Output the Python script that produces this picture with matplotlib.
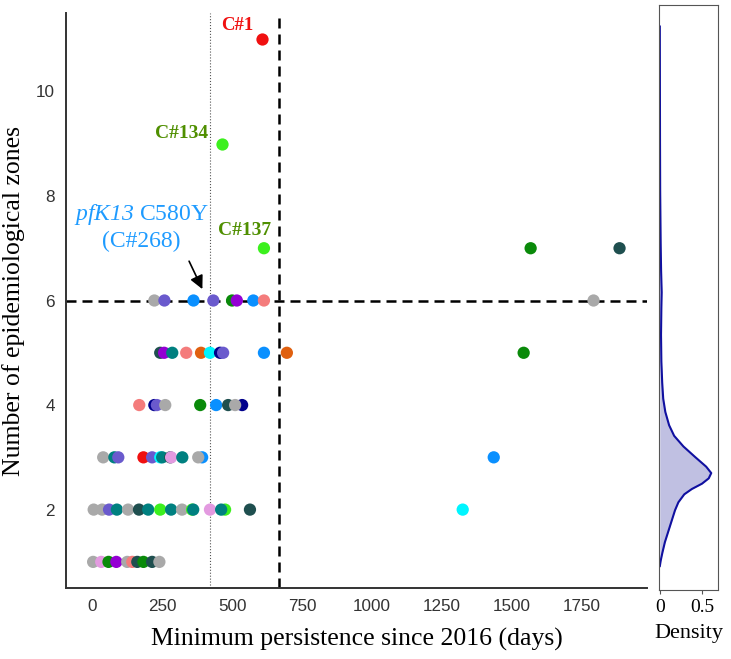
import numpy as np
import matplotlib.pyplot as plt

plt.rcParams['font.family'] = ['Liberation Sans', 'DejaVu Sans']
plt.rcParams['mathtext.fontset'] = 'custom'
plt.rcParams['mathtext.rm'] = 'Liberation Serif:italic'
plt.rcParams['mathtext.it'] = 'Liberation Serif:italic'

# colour names used for clones
GRAY, SLATE, DODGER, GREEN = '#A9A9A9', '#6A5ACD', '#0A90FF', '#0A8A0A'
VIOLET, CORAL, TEAL, DSLATE = '#9400D3', '#F47C7C', '#008080', '#1F4F4F'
LIME, RED, ORANGE, CYAN = '#3CF01E', '#F01010', '#E0600F', '#00F5FF'
NAVY, PLUM = '#00008B', '#E39AE0'

# persistence (days) and colour of each clone, per number of zones
z1_days = [3, 32, 58, 86, 125, 143, 161, 183, 214, 240]
z1_cols = [GRAY, PLUM, GREEN, VIOLET, GRAY, CORAL, DSLATE, GREEN, DSLATE, GRAY]

z2_days = [5, 35, 60, 88, 128, 167, 200, 243, 282, 321, 357, 361, 421, 475, 461, 564, 1325]
z2_cols = [GRAY, GRAY, SLATE, TEAL, GRAY, DSLATE, TEAL, LIME, TEAL, GRAY, LIME, TEAL,
           PLUM, LIME, TEAL, DSLATE, CYAN]

z3_days = [39, 79, 93, 183, 214, 243, 250, 279, 282, 322, 393, 379, 1436]
z3_cols = [GRAY, TEAL, SLATE, RED, SLATE, CYAN, TEAL, DSLATE, PLUM, TEAL, DODGER, GRAY, DODGER]

z4_days = [168, 222, 231, 261, 386, 443, 486, 536, 511]
z4_cols = [CORAL, NAVY, SLATE, GRAY, GREEN, DODGER, DSLATE, NAVY, GRAY]

z5_days = [243, 257, 286, 336, 389, 421, 457, 468, 614, 696, 1543]
z5_cols = [DSLATE, VIOLET, TEAL, CORAL, ORANGE, CYAN, NAVY, SLATE, DODGER, ORANGE, GREEN]

z6_days = [222, 258, 362, 433, 500, 517, 576, 614, 1793]
z6_cols = [GRAY, SLATE, DODGER, SLATE, GREEN, VIOLET, DODGER, CORAL, GRAY]

z7_days = [614, 1568, 1886]
z7_cols = [LIME, GREEN, DSLATE]

z9_days = [465]
z9_cols = [LIME]

z11_days = [607]
z11_cols = [RED]

# density of the number of zones
dens_y = [0.95, 1.05, 1.2, 1.4, 1.6, 1.8, 2.0, 2.15, 2.3, 2.4, 2.5, 2.6, 2.7, 2.82, 3.0,
          3.2, 3.4, 3.6, 3.85, 4.1, 4.4, 4.8, 5.3, 5.8, 6.1, 6.5, 7.0, 8.0, 9.0, 10.0, 11.1]
dens_x = [0.0, 0.01, 0.03, 0.06, 0.1, 0.14, 0.18, 0.22, 0.29, 0.38, 0.5, 0.58, 0.61, 0.55,
          0.42, 0.28, 0.17, 0.11, 0.065, 0.04, 0.028, 0.018, 0.014, 0.018, 0.022, 0.015,
          0.01, 0.004, 0.002, 0.001, 0.0]

groups = [(1, z1_days, z1_cols), (2, z2_days, z2_cols), (3, z3_days, z3_cols),
          (4, z4_days, z4_cols), (5, z5_days, z5_cols), (6, z6_days, z6_cols),
          (7, z7_days, z7_cols), (9, z9_days, z9_cols), (11, z11_days, z11_cols)]

fig = plt.figure(figsize=(7.31, 6.59), dpi=100)
ax = fig.add_axes([0.0903, 0.1077, 0.7947, 0.8726])
axd = fig.add_axes([0.9015, 0.1047, 0.0807, 0.8873])

for zones, days, cols in groups:
    ax.scatter(days, [zones] * len(days), c=cols, s=78, linewidths=0, zorder=3)

ax.axhline(6, color='black', ls=(0, (4, 2.4)), lw=1.8, zorder=2)
ax.axvline(668, color='black', ls=(0, (4, 2.4)), lw=1.8, zorder=2)
ax.axvline(421, color='#555555', ls=':', lw=0.8, zorder=1)

ax.set_xlim(-94, 1984)
ax.set_ylim(0.5, 11.5)
ax.set_xticks([0, 250, 500, 750, 1000, 1250, 1500, 1750])
ax.set_yticks([2, 4, 6, 8, 10])
ax.tick_params(length=0, labelsize=12.3, labelcolor='#333333', pad=8)
for s in ['top', 'right']:
    ax.spines[s].set_visible(False)
for s in ['left', 'bottom']:
    ax.spines[s].set_color('#333333')
    ax.spines[s].set_linewidth(1.4)

serif = 'Liberation Serif'
ax.set_xlabel('Minimum persistence since 2016 (days)', family=serif, fontsize=18.5, labelpad=10)
ax.set_ylabel('Number of epidemiological zones', family=serif, fontsize=18.5, labelpad=8)

ax.text(520, 11.27, 'C#1', color=RED, family=serif, weight='bold', fontsize=13.5,
        ha='center', va='center')
ax.text(318, 9.2, 'C#134', color='#4F8F00', family=serif, weight='bold', fontsize=14,
        ha='center', va='center')
ax.text(543, 7.34, 'C#137', color='#4F8F00', family=serif, weight='bold', fontsize=14,
        ha='center', va='center')
ax.text(175, 7.65, r'$pfK13$ C580Y', color='#1E9BFF', family=serif, fontsize=17,
        ha='center', va='center')
ax.text(175, 7.13, '(C#268)', color='#1E9BFF', family=serif, fontsize=17,
        ha='center', va='center')
ax.annotate('', xy=(398, 6.17), xytext=(342, 6.8),
            arrowprops=dict(arrowstyle='-|>', color='black', lw=1.2, mutation_scale=20))

# side density panel
axd.fill_betweenx(dens_y, 0, dens_x, color='#3030A0', alpha=0.3, linewidth=0)
axd.plot(dens_x, dens_y, color='#1010A0', lw=1.5)
axd.set_ylim(0.5, 11.5)
axd.set_xlim(-0.01, 0.69)
axd.set_yticks([])
axd.set_xticks([0, 0.5])
axd.set_xticklabels(['0', '0.5'], family=serif, fontsize=14)
axd.tick_params(axis='x', length=3, color='#555555')
for s in axd.spines.values():
    s.set_color('#555555')
    s.set_linewidth(0.8)
axd.set_xlabel('Density', family=serif, fontsize=16, labelpad=6)

fig.savefig('out.png', dpi=100)
